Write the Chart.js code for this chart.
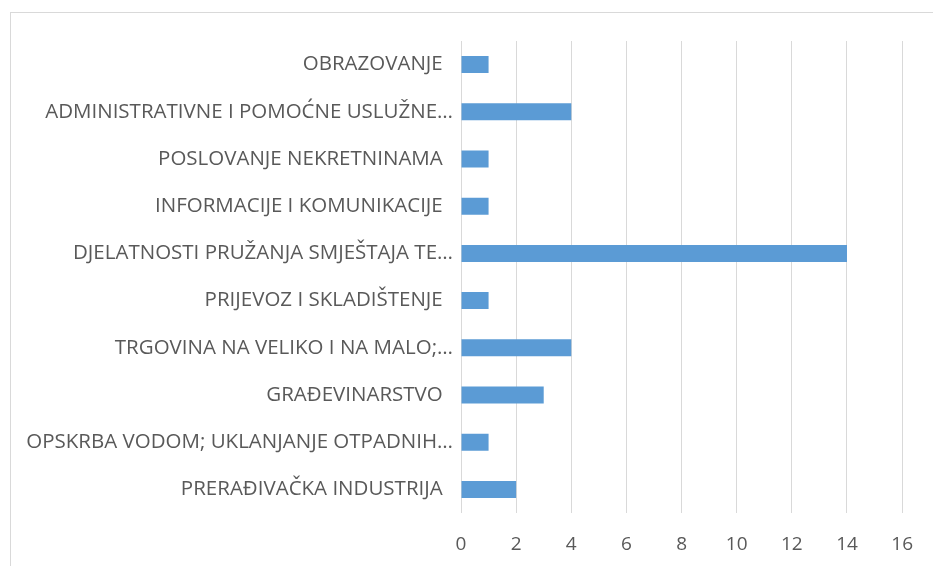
<!DOCTYPE html>
<html>
<head>
<meta charset="utf-8">
<script src="https://cdn.jsdelivr.net/npm/chart.js@4/dist/chart.umd.min.js"></script>
<style>
  html, body { margin: 0; padding: 0; background: #fff; overflow: hidden; }
  #frame {
    position: absolute; left: 10px; top: 12px;
    width: 940px; height: 570px;
    border: 1px solid #d9d9d9;
  }
  #wrap { position: absolute; left: 0; top: 0; width: 922px; height: 553px; }
</style>
</head>
<body>
<div id="frame">
  <div id="wrap"><canvas id="chart"></canvas></div>
</div>
<script>
  // categories, top to bottom as shown
  const categories = [
    'OBRAZOVANJE',
    'ADMINISTRATIVNE I POMOĆNE USLUŽNE…',
    'POSLOVANJE NEKRETNINAMA',
    'INFORMACIJE I KOMUNIKACIJE',
    'DJELATNOSTI PRUŽANJA SMJEŠTAJA TE…',
    'PRIJEVOZ I SKLADIŠTENJE',
    'TRGOVINA NA VELIKO I NA MALO;…',
    'GRAĐEVINARSTVO',
    'OPSKRBA VODOM; UKLANJANJE OTPADNIH…',
    'PRERAĐIVAČKA INDUSTRIJA'
  ];
  const counts = [1, 4, 1, 1, 14, 1, 4, 3, 1, 2];
  const xTicks = [0, 2, 4, 6, 8, 10, 12, 14, 16];

  const textColor = '#595959';
  const gridColor = '#d9d9d9';

  new Chart(document.getElementById('chart'), {
    type: 'bar',
    data: {
      labels: categories,
      datasets: [{
        data: counts,
        backgroundColor: '#5b9bd5',
        borderWidth: 0,
        categoryPercentage: 1,
        barPercentage: 0.36
      }]
    },
    options: {
      indexAxis: 'y',
      responsive: true,
      maintainAspectRatio: false,
      animation: false,
      layout: { padding: { top: 28, right: 29, left: 0, bottom: 0 } },
      plugins: {
        legend: { display: false },
        tooltip: { enabled: false }
      },
      scales: {
        x: {
          min: xTicks[0],
          max: xTicks[xTicks.length - 1],
          afterBuildTicks: (axis) => { axis.ticks = xTicks.map(v => ({ value: v })); },
          afterFit: (axis) => { axis.height = 53; },
          grid: { color: gridColor, lineWidth: 1, drawTicks: false },
          border: { display: false },
          ticks: {
            color: textColor,
            padding: 20,
            maxRotation: 0,
            font: { family: 'Open Sans', size: 19 }
          }
        },
        y: {
          afterFit: (axis) => { axis.width = 450; },
          grid: { display: false },
          border: { display: false },
          ticks: {
            color: textColor,
            padding: 0,
            autoSkip: false,
            font: { family: 'Open Sans', size: 20.5 },
            // full labels sit a little further left than the cut ones
            callback: function(value) {
              const label = this.getLabelForValue(value);
              return label.endsWith('…') ? label : label + '\u2002';
            }
          }
        }
      }
    }
  });
</script>
</body>
</html>
